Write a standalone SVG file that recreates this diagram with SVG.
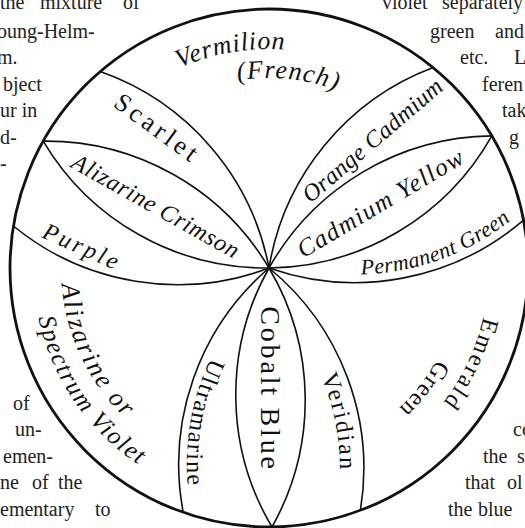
<svg xmlns="http://www.w3.org/2000/svg" width="525" height="528" viewBox="0 0 525 528">
<style>
.rim{fill:none;stroke:#111;stroke-width:2.8}
.arc{fill:none;stroke:#111;stroke-width:1.6}
.page{font-family:"Liberation Serif",serif;font-size:20px;fill:#222}
.lbl{font-family:"Liberation Serif",serif;fill:#111}
.it{font-style:italic}
</style>
<defs>
<path id="pVerm" d="M143.4,88.6 A219,219 0 0 1 325.7,56.5"/>
<path id="pFrench" d="M206.5,88.6 A190,190 0 0 1 366.3,104.8"/>
<path id="pEmerald" d="M489,269.9 A220,220 0 0 1 408.9,437.8"/>
<path id="pEGreen" d="M455.1,311 A191,191 0 0 1 355.7,438.2"/>
<path id="pAlizOr" d="M61.6,251.7 A208,208 0 0 0 151.2,439.4"/>
<path id="pSpectrum" d="M33,265.9 A236,236 0 0 0 186.4,489.1"/>
<path id="pPermGreen" d="M289.7,266 A251,251 0 0 0 560.3,167.6"/>
<path id="pUltra" d="M232.2,320.4 A251,251 0 0 0 195.4,529.4"/>
<path id="pVerid" d="M294.5,329.6 A235,235 0 0 1 333.1,524.4"/>
</defs>
<rect width="525" height="528" fill="#fff"/>

<g id="page-text" class="page">
<text y="8.5"><tspan x="0">the</tspan><tspan x="40">mixture</tspan><tspan x="123">of</tspan></text>
<text x="-3" y="37.5">oung-Helm-</text>
<text x="-3" y="64">m.</text>
<text x="3" y="90.5">bject</text>
<text x="0" y="117">ur in</text>
<text x="0" y="143.5">d-</text>
<text x="0" y="170">-</text>
<text y="8.5"><tspan x="382">violet</tspan><tspan x="442">separately</tspan></text>
<text y="37.5"><tspan x="430">green</tspan><tspan x="495">and</tspan></text>
<text y="64"><tspan x="460">etc.</tspan><tspan x="514">L</tspan></text>
<text x="482" y="90.5">feren</text>
<text x="502" y="117">tak</text>
<text x="509" y="143.5">g</text>
<text x="13" y="409.5">of</text>
<text x="15" y="436">un-</text>
<text x="3" y="462.5">emen-</text>
<text y="489"><tspan x="0">ne</tspan><tspan x="32">of</tspan><tspan x="58">the</tspan></text>
<text y="515.5"><tspan x="0">ementary</tspan><tspan x="95">to</tspan></text>
<text x="513" y="436">co</text>
<text y="462.5"><tspan x="483">the</tspan><tspan x="517">s</tspan></text>
<text y="489"><tspan x="465">that</tspan><tspan x="507">ol</tspan></text>
<text y="515.5"><tspan x="448">the</tspan><tspan x="478">blue</tspan></text>
</g>

<g id="connectors">
<circle class="rim" cx="269" cy="268" r="259"/>
<path class="arc" d="M269,268 A259,259 0 0 0 100.2,71.6"/>
<path class="arc" d="M269,268 A259,259 0 0 0 43.2,141.1"/>
<path class="arc" d="M269,268 A259,259 0 0 1 43.2,141.1"/>
<path class="arc" d="M269,268 A259,259 0 0 1 13.4,226.0"/>
<path class="arc" d="M269,268 A259,259 0 0 0 523.5,220.1"/>
<path class="arc" d="M269,268 A259,259 0 0 0 491.8,135.9"/>
<path class="arc" d="M269,268 A259,259 0 0 1 491.8,135.9"/>
<path class="arc" d="M269,268 A259,259 0 0 1 433.1,67.6"/>
<path class="arc" d="M269,268 A259,259 0 0 1 360.4,510.3"/>
<path class="arc" d="M269,268 A259,259 0 0 0 272.0,527.0"/>
<path class="arc" d="M269,268 A259,259 0 0 1 272.0,527.0"/>
<path class="arc" d="M269,268 A259,259 0 0 0 183.2,512.4"/>
</g>

<g id="vermilion">
<text class="lbl it" font-size="26" letter-spacing="0.8"><textPath href="#pVerm" startOffset="50%" text-anchor="middle">Vermilion</textPath></text>
<text class="lbl it" font-size="26" letter-spacing="1.2"><textPath href="#pFrench" startOffset="50%" text-anchor="middle">(French)</textPath></text>
</g>
<g id="scarlet">
<text class="lbl" font-size="26" letter-spacing="4" text-anchor="middle" transform="translate(152.7,135.3) rotate(36)">Scarlet</text>
</g>
<g id="alizarine-crimson">
<text class="lbl it" font-size="24" letter-spacing="0.7" text-anchor="middle" transform="translate(152,213) rotate(29.3)">Alizarine Crimson</text>
</g>
<g id="purple">
<text class="lbl it" font-size="24" letter-spacing="3" text-anchor="middle" transform="translate(79,254) rotate(24)">Purple</text>
</g>
<g id="orange-cadmium">
<text class="lbl it" font-size="24" letter-spacing="0.3" text-anchor="middle" transform="translate(377.6,146.3) rotate(-40.6)">Orange Cadmium</text>
</g>
<g id="cadmium-yellow">
<text class="lbl it" font-size="25" letter-spacing="1.5" text-anchor="middle" transform="translate(385,210) rotate(-30.7)">Cadmium Yellow</text>
</g>
<g id="permanent-green">
<text class="lbl it" font-size="22" letter-spacing="0.4"><textPath href="#pPermGreen" startOffset="50%" text-anchor="middle">Permanent Green</textPath></text>
</g>
<g id="emerald-green">
<text class="lbl" font-size="24" letter-spacing="2.2"><textPath href="#pEmerald" startOffset="50%" text-anchor="middle">Emerald</textPath></text>
<text class="lbl" font-size="24" letter-spacing="0.8"><textPath href="#pEGreen" startOffset="50%" text-anchor="middle">Green</textPath></text>
</g>
<g id="veridian">
<text class="lbl" font-size="24" letter-spacing="2"><textPath href="#pVerid" startOffset="50%" text-anchor="middle">Veridian</textPath></text>
</g>
<g id="cobalt-blue">
<text class="lbl" font-size="28" letter-spacing="2.8" text-anchor="middle" transform="translate(261,389) rotate(90)">Cobalt Blue</text>
</g>
<g id="ultramarine">
<text class="lbl" font-size="24" letter-spacing="1.5"><textPath href="#pUltra" startOffset="50%" text-anchor="middle">Ultramarine</textPath></text>
</g>
<g id="alizarine-spectrum-violet">
<text class="lbl it" font-size="26" letter-spacing="2.3"><textPath href="#pAlizOr" startOffset="50%" text-anchor="middle">Alizarine or</textPath></text>
<text class="lbl it" font-size="25" letter-spacing="1.7"><textPath href="#pSpectrum" startOffset="50%" text-anchor="middle">Spectrum Violet</textPath></text>
</g>
</svg>
